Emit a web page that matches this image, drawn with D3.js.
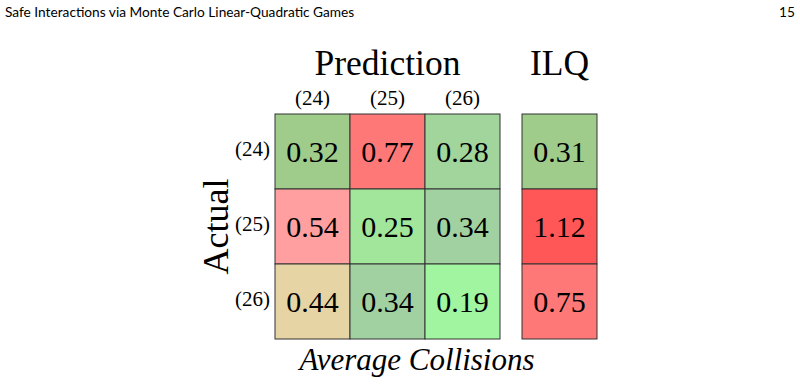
<!DOCTYPE html>
<html>
<head>
<meta charset="utf-8">
<script src="https://cdn.jsdelivr.net/npm/d3@7"></script>
<style>
  body { margin: 0; background: #fff; }
  svg { display: block; }
</style>
</head>
<body>
<svg id="chart" width="800" height="390"></svg>
<script>
// chart values
const predCols = ["(24)", "(25)", "(26)"];
const actualRows = ["(24)", "(25)", "(26)"];
const predValues = [
  [0.32, 0.77, 0.28],
  [0.54, 0.25, 0.34],
  [0.44, 0.34, 0.19]
];
const ilqValues = [0.31, 1.12, 0.75];

// cell fills
const predColors = [
  ["#9fcc8b", "#ff7878", "#a1d59b"],
  ["#ff9f9f", "#a1e69b", "#a1d1a1"],
  ["#e7d4a4", "#a1d1a1", "#a1f5a1"]
];
const ilqColors = ["#9fcc8b", "#ff5757", "#ff7878"];

const serif = "'Liberation Serif', 'DejaVu Serif', serif";
const svg = d3.select('#chart');

// page header
svg.append('text')
  .attr('x', 5).attr('y', 17)
  .attr('font-family', "Lato, 'Open Sans', sans-serif")
  .attr('font-size', 13.7)
  .text('Safe Interactions via Monte Carlo Linear-Quadratic Games');
svg.append('text')
  .attr('x', 795).attr('y', 17)
  .attr('text-anchor', 'end')
  .attr('font-family', "Lato, 'Open Sans', sans-serif")
  .attr('font-size', 13.7)
  .text('15');

// scales
const x = d3.scaleBand().domain(predCols).range([275, 500]);
const xIlq = d3.scaleBand().domain(['ILQ']).range([522, 597]);
const y = d3.scaleBand().domain(actualRows).range([114, 339]);

// prediction grid
const cells = [];
predValues.forEach((row, i) => row.forEach((v, j) => {
  cells.push({ row: actualRows[i], col: predCols[j], value: v, color: predColors[i][j] });
}));

const g = svg.append('g');
g.selectAll('rect.pred')
  .data(cells)
  .enter()
  .append('rect')
  .attr('class', 'pred')
  .attr('x', d => x(d.col))
  .attr('y', d => y(d.row))
  .attr('width', x.bandwidth())
  .attr('height', y.bandwidth())
  .attr('fill', d => d.color)
  .attr('stroke', '#333')
  .attr('stroke-width', 1);

g.selectAll('text.pred')
  .data(cells)
  .enter()
  .append('text')
  .attr('class', 'pred')
  .attr('x', d => x(d.col) + x.bandwidth() / 2)
  .attr('y', d => y(d.row) + y.bandwidth() / 2 + 10.5)
  .attr('text-anchor', 'middle')
  .attr('font-family', serif)
  .attr('font-size', 30)
  .text(d => d.value.toFixed(2));

// ILQ column
const ilqCells = ilqValues.map((v, i) => ({ row: actualRows[i], value: v, color: ilqColors[i] }));
g.selectAll('rect.ilq')
  .data(ilqCells)
  .enter()
  .append('rect')
  .attr('class', 'ilq')
  .attr('x', xIlq('ILQ'))
  .attr('y', d => y(d.row))
  .attr('width', xIlq.bandwidth())
  .attr('height', y.bandwidth())
  .attr('fill', d => d.color)
  .attr('stroke', '#333')
  .attr('stroke-width', 1);

g.selectAll('text.ilq')
  .data(ilqCells)
  .enter()
  .append('text')
  .attr('class', 'ilq')
  .attr('x', xIlq('ILQ') + xIlq.bandwidth() / 2)
  .attr('y', d => y(d.row) + y.bandwidth() / 2 + 10.5)
  .attr('text-anchor', 'middle')
  .attr('font-family', serif)
  .attr('font-size', 30)
  .text(d => d.value.toFixed(2));

// column labels
svg.selectAll('text.colLabel')
  .data(predCols)
  .enter()
  .append('text')
  .attr('class', 'colLabel')
  .attr('x', d => x(d) + x.bandwidth() / 2)
  .attr('y', 105)
  .attr('text-anchor', 'middle')
  .attr('font-family', serif)
  .attr('font-size', 21)
  .text(d => d);

// row labels
svg.selectAll('text.rowLabel')
  .data(actualRows)
  .enter()
  .append('text')
  .attr('class', 'rowLabel')
  .attr('x', 270)
  .attr('y', d => y(d) + y.bandwidth() / 2 + 4)
  .attr('text-anchor', 'end')
  .attr('font-family', serif)
  .attr('font-size', 21)
  .text(d => d);

// titles
svg.append('text')
  .attr('x', (x.range()[0] + x.range()[1]) / 2)
  .attr('y', 75)
  .attr('text-anchor', 'middle')
  .attr('font-family', serif)
  .attr('font-size', 35.5)
  .text('Prediction');

svg.append('text')
  .attr('x', xIlq('ILQ') + xIlq.bandwidth() / 2)
  .attr('y', 75)
  .attr('text-anchor', 'middle')
  .attr('font-family', serif)
  .attr('font-size', 35.5)
  .text('ILQ');

svg.append('text')
  .attr('transform', `translate(228, ${(y.range()[0] + y.range()[1]) / 2}) rotate(-90)`)
  .attr('text-anchor', 'middle')
  .attr('font-family', serif)
  .attr('font-size', 36)
  .text('Actual');

svg.append('text')
  .attr('x', 417)
  .attr('y', 370)
  .attr('text-anchor', 'middle')
  .attr('font-family', serif)
  .attr('font-style', 'italic')
  .attr('font-size', 31)
  .text('Average Collisions');
</script>
</body>
</html>
